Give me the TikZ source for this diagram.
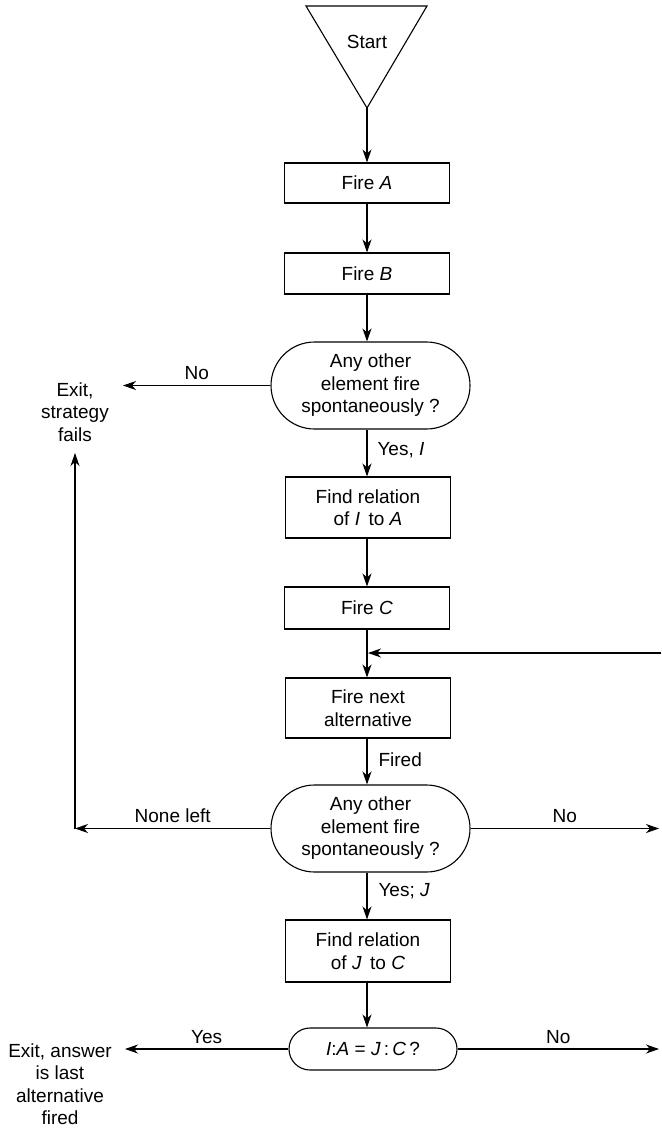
\documentclass[tikz,border=0pt]{standalone}
\usepackage{fontspec}
\setmainfont{Liberation Sans}
\usetikzlibrary{arrows.meta}

\begin{document}
\begin{tikzpicture}[x=1pt,y=-1pt,
  every node/.style={font=\fontsize{19}{22.5}\selectfont},
  line/.style={line width=1.1pt},
  arr/.style={line, -{Stealth[length=13pt,width=9pt,inset=4pt]}},
  box/.style={draw, line width=1.1pt, minimum width=165pt, align=center, inner sep=0pt},
  query/.style={draw, line width=1.1pt, align=center, inner sep=0pt},
  lbl/.style={inner sep=1pt}
]
\useasboundingbox (0,0) rectangle (661,1129);

% start terminal (inverted triangle)
\draw[line] (306,6) -- (427,6) -- (367,108) -- cycle;
\node (start) at (367,42) {Start};
\coordinate (apex) at (367,108);

% process boxes
\node[box, minimum height=40pt] (fireA) at (367,183) {Fire \textit{A}};
\node[box, minimum height=41pt] (fireB) at (367,273.5) {Fire \textit{B}};
\node[box, minimum height=61pt] (findI) at (368,507.5) {Find relation\\of \textit{I}\, to \textit{A}};
\node[box, minimum height=42pt] (fireC) at (367,608) {Fire \textit{C}};
\node[box, minimum height=60pt] (firenext) at (368,708) {Fire next\\alternative};
\node[box, minimum height=62pt] (findJ) at (368,951) {Find relation\\of \textit{J}\, to \textit{C}};

% decisions
\node[query, rounded corners=43.5pt, minimum width=199pt, minimum height=87pt] (dec1) at (370.5,385.5)
  {Any other\\element fire\\spontaneously ?};
\node[query, rounded corners=43.5pt, minimum width=199pt, minimum height=87pt] (dec2) at (370.5,828.5)
  {Any other\\element fire\\spontaneously ?};
\node[query, rounded corners=21pt, minimum width=168pt, minimum height=42pt] (dec3) at (373,1049)
  {\textit{I}:\textit{A} = \textit{J}\,:\,\textit{C}\,?};

% exits
\node[align=center] (exit1) at (75,412) {Exit,\\strategy\\fails};
\node[align=center] (exit2) at (60,1084) {Exit, answer\\is last\\alternative\\fired};

% loose ends
\coordinate (failno) at (123,385.5);
\coordinate (corner) at (75,828.5);
\coordinate (failtip) at (75,453);
\coordinate (no2) at (659,828.5);
\coordinate (loopin) at (661,653);
\coordinate (answer) at (125,1049);
\coordinate (no3) at (659,1049);

% main flow
\draw[arr] (apex) -- (fireA.north);
\draw[arr] (fireA.south) -- (fireB.north -| fireA.south);
\draw[arr] (fireB.south) -- (fireB.south |- dec1.north);
\draw[arr] (dec1.south -| fireB.south) -- (findI.north -| fireB.south)
  node[lbl, anchor=west, pos=0.45, xshift=9pt] (yesI) {Yes, \textit{I}};
\draw[arr] (findI.south -| fireB.south) -- (fireC.north -| fireB.south);
\draw[arr] (fireC.south) -- (firenext.north -| fireC.south);
\draw[arr, shorten >=1pt] (loopin) -- (loopin -| fireC.south);
\draw[arr] (firenext.south -| fireC.south) -- (dec2.north -| fireC.south)
  node[lbl, anchor=west, pos=0.45, xshift=10pt] (fired) {Fired};
\draw[arr] (dec2.south -| fireC.south) -- (findJ.north -| fireC.south)
  node[lbl, anchor=west, pos=0.4, xshift=10pt] (yesJ) {Yes; \textit{J}};
\draw[arr] (findJ.south -| fireC.south) -- (dec3.north -| fireC.south);

% branches
\draw[arr] (dec1.west) -- (failno)
  node[lbl, midway, above=4pt] (no1) {No};
\draw[arr] (dec2.west) -- (corner)
  node[lbl, midway, above=4pt] (noneleft) {None left};
\draw[arr] (corner) -- (failtip);
\draw[arr] (dec2.east) -- (no2)
  node[lbl, midway, above=4pt] (no2lbl) {No};
\draw[arr] (dec3.west) -- (answer)
  node[lbl, midway, above=4pt] (yes3) {Yes};
\draw[arr] (dec3.east) -- (no3)
  node[lbl, midway, above=4pt] (no3lbl) {No};
\end{tikzpicture}
\end{document}
